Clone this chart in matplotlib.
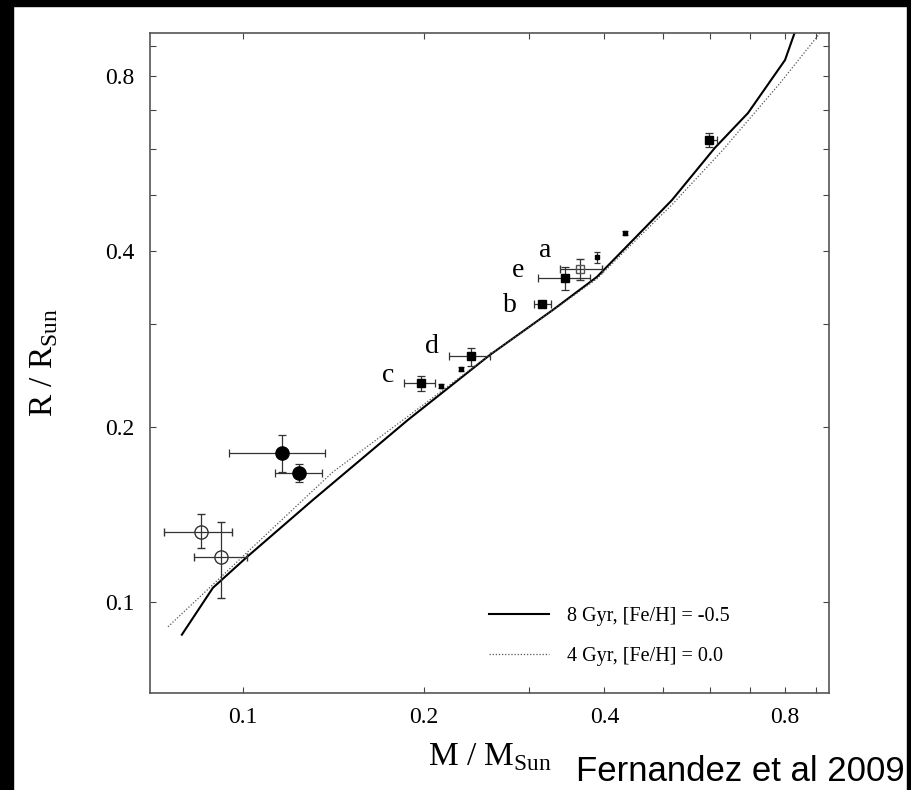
import numpy as np
import matplotlib
matplotlib.use("Agg")
import matplotlib.pyplot as plt
from matplotlib.patches import Rectangle
from matplotlib.ticker import FixedLocator, NullFormatter

plt.rcParams["font.family"] = ["Liberation Serif", "DejaVu Serif"]
plt.rcParams["mathtext.fontset"] = "custom"
plt.rcParams["mathtext.rm"] = "Liberation Serif"

# Model isochrones (mass, radius)
iso8_m = [0.0791, 0.0891, 0.1016, 0.1308, 0.1883, 0.2579, 0.3284,
          0.3888, 0.4585, 0.5185, 0.611, 0.694, 0.800, 0.831]
iso8_r = [0.0880, 0.1059, 0.1197, 0.1499, 0.2056, 0.2658, 0.3175,
          0.3617, 0.4303, 0.490, 0.602, 0.691, 0.852, 0.952]
iso4_m = [0.075, 0.1259, 0.1412, 0.1883, 0.2579, 0.3284, 0.3888,
          0.4585, 0.5185, 0.630, 0.785, 0.915]
iso4_r = [0.0908, 0.1499, 0.1674, 0.2085, 0.2660, 0.3170, 0.3590,
          0.4250, 0.4810, 0.597, 0.778, 0.948]
iso_labels = ["8 Gyr, [Fe/H] = -0.5", "4 Gyr, [Fe/H] = 0.0"]

# Open circles
oc_m = [0.0851, 0.0919]
oc_m_lo = [0.0739, 0.0829]
oc_m_hi = [0.0959, 0.1016]
oc_r = [0.1321, 0.1197]
oc_r_lo = [0.1240, 0.1018]
oc_r_hi = [0.1418, 0.1374]

# Filled circles
fc_m = [0.1161, 0.1240]
fc_m_lo = [0.0948, 0.1131]
fc_m_hi = [0.1370, 0.1354]
fc_r = [0.1805, 0.1668]
fc_r_lo = [0.1674, 0.1610]
fc_r_hi = [0.1938, 0.1728]

# Filled squares (c, d, b, e, and the high-mass one)
fs_m = [0.1979, 0.2398, 0.3149, 0.3439, 0.5975]
fs_m_lo = [0.1854, 0.2204, 0.3054, 0.3101, 0.5906]
fs_m_hi = [0.2089, 0.2579, 0.3259, 0.3785, 0.6160]
fs_r = [0.2380, 0.2648, 0.3251, 0.3602, 0.6210]
fs_r_lo = [0.2306, 0.2545, 0.3235, 0.3436, 0.6040]
fs_r_hi = [0.2446, 0.2733, 0.3267, 0.3762, 0.6390]

# Open square (a)
os_m = [0.3643]
os_m_lo = [0.3374]
os_m_hi = [0.3963]
os_r = [0.3733]
os_r_lo = [0.3574]
os_r_hi = [0.3884]

# Small points
sp_m = [0.2137, 0.2308, 0.3888, 0.4329]
sp_r = [0.2352, 0.2515, 0.3914, 0.4303]
sp_r_lo = [0.2335, 0.2495, 0.3822, 0.4270]
sp_r_hi = [0.2370, 0.2535, 0.3993, 0.4336]

# Letter labels
lab_text = ["a", "e", "b", "d", "c"]
lab_m = [0.3185, 0.2871, 0.2785, 0.2065, 0.1744]
lab_r = [0.3914, 0.3617, 0.3150, 0.2679, 0.2389]

x_ticks = [0.1, 0.2, 0.4, 0.8]
x_minor = [0.3, 0.5, 0.6, 0.7, 0.9]
y_ticks = [0.1, 0.2, 0.4, 0.8]
y_minor = [0.3, 0.5, 0.6, 0.7, 0.9]


def asym(v, lo, hi):
    v = np.array(v)
    return [v - np.array(lo), np.array(hi) - v]


fig = plt.figure(figsize=(9.12, 7.9), dpi=100)
ax = fig.add_axes([150 / 912, 1 - 693 / 790, 679 / 912, 660 / 790])

ax.set_xscale("log")
ax.set_yscale("log")
ax.set_xlim(0.0700, 0.947)
ax.set_ylim(0.0699, 0.948)

# Isochrones
ax.plot(iso8_m, iso8_r, color="black", lw=1.5, label=iso_labels[0])
ax.plot(iso4_m, iso4_r, color="#555555", lw=0.9, ls=(0, (1, 1.5)),
        label=iso_labels[1])

eb = dict(ecolor="#333333", elinewidth=0.9, capsize=3, capthick=0.9,
          ls="none")

ax.errorbar(oc_m, oc_r, xerr=asym(oc_m, oc_m_lo, oc_m_hi),
            yerr=asym(oc_r, oc_r_lo, oc_r_hi), marker="o", ms=9.5,
            mfc="none", mec="#333333", mew=1.0, **eb)
ax.errorbar(fc_m, fc_r, xerr=asym(fc_m, fc_m_lo, fc_m_hi),
            yerr=asym(fc_r, fc_r_lo, fc_r_hi), marker="o", ms=9.5,
            mfc="black", mec="black", **eb)
ax.errorbar(fs_m, fs_r, xerr=asym(fs_m, fs_m_lo, fs_m_hi),
            yerr=asym(fs_r, fs_r_lo, fs_r_hi), marker="s", ms=6,
            mfc="black", mec="black", **eb)
ax.errorbar(os_m, os_r, xerr=asym(os_m, os_m_lo, os_m_hi),
            yerr=asym(os_r, os_r_lo, os_r_hi), marker="s", ms=6,
            mfc="none", mec="#555555", mew=1.0, **eb)
ax.errorbar(sp_m, sp_r, yerr=asym(sp_r, sp_r_lo, sp_r_hi), marker="s",
            ms=2.2, mfc="black", mec="black", ecolor="#333333",
            elinewidth=0.9, capsize=2, capthick=0.9, ls="none")

for t, m, r in zip(lab_text, lab_m, lab_r):
    ax.text(m, r, t, fontsize=20, ha="center", va="baseline")

# Ticks
ax.xaxis.set_major_locator(FixedLocator(x_ticks))
ax.xaxis.set_minor_locator(FixedLocator(x_minor))
ax.yaxis.set_major_locator(FixedLocator(y_ticks))
ax.yaxis.set_minor_locator(FixedLocator(y_minor))
ax.xaxis.set_major_formatter(plt.FuncFormatter(lambda v, p: f"{v:g}"))
ax.yaxis.set_major_formatter(plt.FuncFormatter(lambda v, p: f"{v:g}"))
ax.xaxis.set_minor_formatter(NullFormatter())
ax.yaxis.set_minor_formatter(NullFormatter())
ax.tick_params(which="both", direction="in", top=True, right=True,
               length=4, width=0.8, color="#444444", labelsize=17)
ax.tick_params(axis="x", pad=10)
ax.tick_params(axis="y", pad=11)
for s in ax.spines.values():
    s.set_color("#555555")
    s.set_linewidth(1.2)

ax.set_xlabel(r"M / M$_{\rm Sun}$", fontsize=24, labelpad=10)
ax.set_ylabel(r"R / R$_{\rm Sun}$", fontsize=24, labelpad=33)

leg = ax.legend(loc="lower left", bbox_to_anchor=(0.478, 0.02), frameon=False,
                fontsize=14.5, handlelength=3.0, handletextpad=0.9,
                labelspacing=1.0, borderpad=0.2)

fig.text(905 / 912, 1 - 781 / 790, "Fernandez et al 2009",
         family="Liberation Sans", fontsize=25, ha="right", va="baseline")

# black frame edges of the original screenshot
fig.patches.append(Rectangle((0, 0), 13 / 912, 1, transform=fig.transFigure,
                             color="black", zorder=10))
fig.patches.append(Rectangle((0, 1 - 6 / 790), 1, 6 / 790,
                             transform=fig.transFigure, color="black",
                             zorder=10))
fig.patches.append(Rectangle((907 / 912, 0), 5 / 912, 1,
                             transform=fig.transFigure, color="black",
                             zorder=10))

fig.savefig("out.png", dpi=100)
